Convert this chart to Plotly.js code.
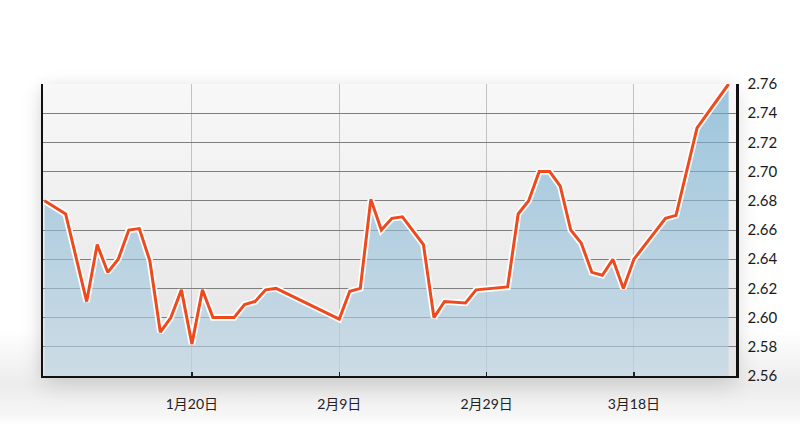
<!DOCTYPE html>
<html>
<head>
<meta charset="utf-8">
<script src="https://cdn.plot.ly/plotly-3.0.1.min.js"></script>
<style>
  html, body { margin: 0; padding: 0; background: #ffffff; }
  #wrap { position: relative; width: 800px; height: 426px; overflow: hidden;
          background: linear-gradient(to bottom, #ffffff 0px, #ffffff 330px, #ececec 385px, #f6f6f6 415px, #ffffff 426px); }
  #plotbg { position: absolute; left: 43px; top: 84px; width: 693px; height: 292px;
            background: linear-gradient(to bottom, #f8f8f8, #e4e4e4);
            box-shadow: 0 8px 22px rgba(0,0,0,0.16), -4px 0 10px rgba(0,0,0,0.04); }
  #chart { position: absolute; left: 0; top: 0; width: 800px; height: 426px; }
</style>
</head>
<body>
<div id="wrap">
  <div id="plotbg"></div>
  <div id="chart"></div>
</div>
<script>
// trading-day index of each visible vertex
const day = [0, 2, 4, 5, 6, 7, 8, 9, 10, 11, 12, 13, 14, 15, 16, 18, 19, 20, 21, 22,
             28, 29, 30, 31, 32, 33, 34, 36, 37, 38, 40, 41, 44, 45, 46, 47, 48, 49, 50,
             51, 52, 53, 54, 55, 56, 59, 60, 62, 65];
const rate = [2.680, 2.671, 2.611, 2.650, 2.631, 2.640, 2.660, 2.661, 2.639, 2.590, 2.600, 2.619, 2.582, 2.619, 2.600, 2.600, 2.609, 2.611, 2.619, 2.620,
              2.599, 2.618, 2.620, 2.681, 2.660, 2.668, 2.669, 2.650, 2.600, 2.611, 2.610, 2.619, 2.621, 2.671, 2.680, 2.700, 2.700, 2.690, 2.660,
              2.651, 2.631, 2.629, 2.640, 2.620, 2.640, 2.668, 2.670, 2.730, 2.760];
const tickDays = [14, 28, 42, 56];
const tickLabels = ['1月20日', '2月9日', '2月29日', '3月18日'];
const yTicks = [2.56, 2.58, 2.60, 2.62, 2.64, 2.66, 2.68, 2.70, 2.72, 2.74, 2.76];

const fontFam = "Lato, 'Noto Sans CJK SC', sans-serif";

const traces = [
  {
    x: day, y: rate, type: 'scatter', mode: 'lines',
    fill: 'tozeroy',
    fillgradient: {
      type: 'vertical', start: 2.56, stop: 2.76,
      colorscale: [[0, 'rgba(190,214,230,0.62)'], [1, 'rgba(100,166,204,0.62)']]
    },
    line: { color: 'rgba(255,255,255,1)', width: 6.5 },
    hoverinfo: 'skip', showlegend: false
  },
  {
    x: day, y: rate, type: 'scatter', mode: 'lines',
    line: { color: '#ee4a1e', width: 3 },
    hoverinfo: 'skip', showlegend: false
  }
];

const layout = {
  width: 800, height: 426,
  margin: { l: 43, r: 64, t: 84, b: 50, pad: 0 },
  paper_bgcolor: 'rgba(0,0,0,0)',
  plot_bgcolor: 'rgba(0,0,0,0)',
  showlegend: false,
  xaxis: {
    range: [-0.15, 65.7],
    tickmode: 'array', tickvals: tickDays, ticktext: tickLabels,
    showgrid: true, gridcolor: '#c2c2c2', gridwidth: 1,
    zeroline: false,
    showline: true, linecolor: '#111111', linewidth: 2, mirror: false,
    ticks: 'inside', ticklen: 4, tickwidth: 1.5, tickcolor: '#222222',
    ticklabelstandoff: 14,
    tickfont: { family: fontFam, size: 14, color: '#222222' },
    fixedrange: true
  },
  yaxis: {
    range: [2.56, 2.76], side: 'right',
    tickmode: 'array', tickvals: yTicks, ticktext: yTicks.map(v => v.toFixed(2)),
    showgrid: true, gridcolor: '#7e7e7e', gridwidth: 1,
    zeroline: false,
    showline: true, linecolor: '#111111', linewidth: 2.5, mirror: true,
    ticks: '', ticklabelstandoff: 6,
    tickfont: { family: fontFam, size: 15, color: '#1a1a1a' },
    fixedrange: true
  }
};

Plotly.newPlot('chart', traces, layout, { displayModeBar: false, staticPlot: true });
</script>
</body>
</html>
